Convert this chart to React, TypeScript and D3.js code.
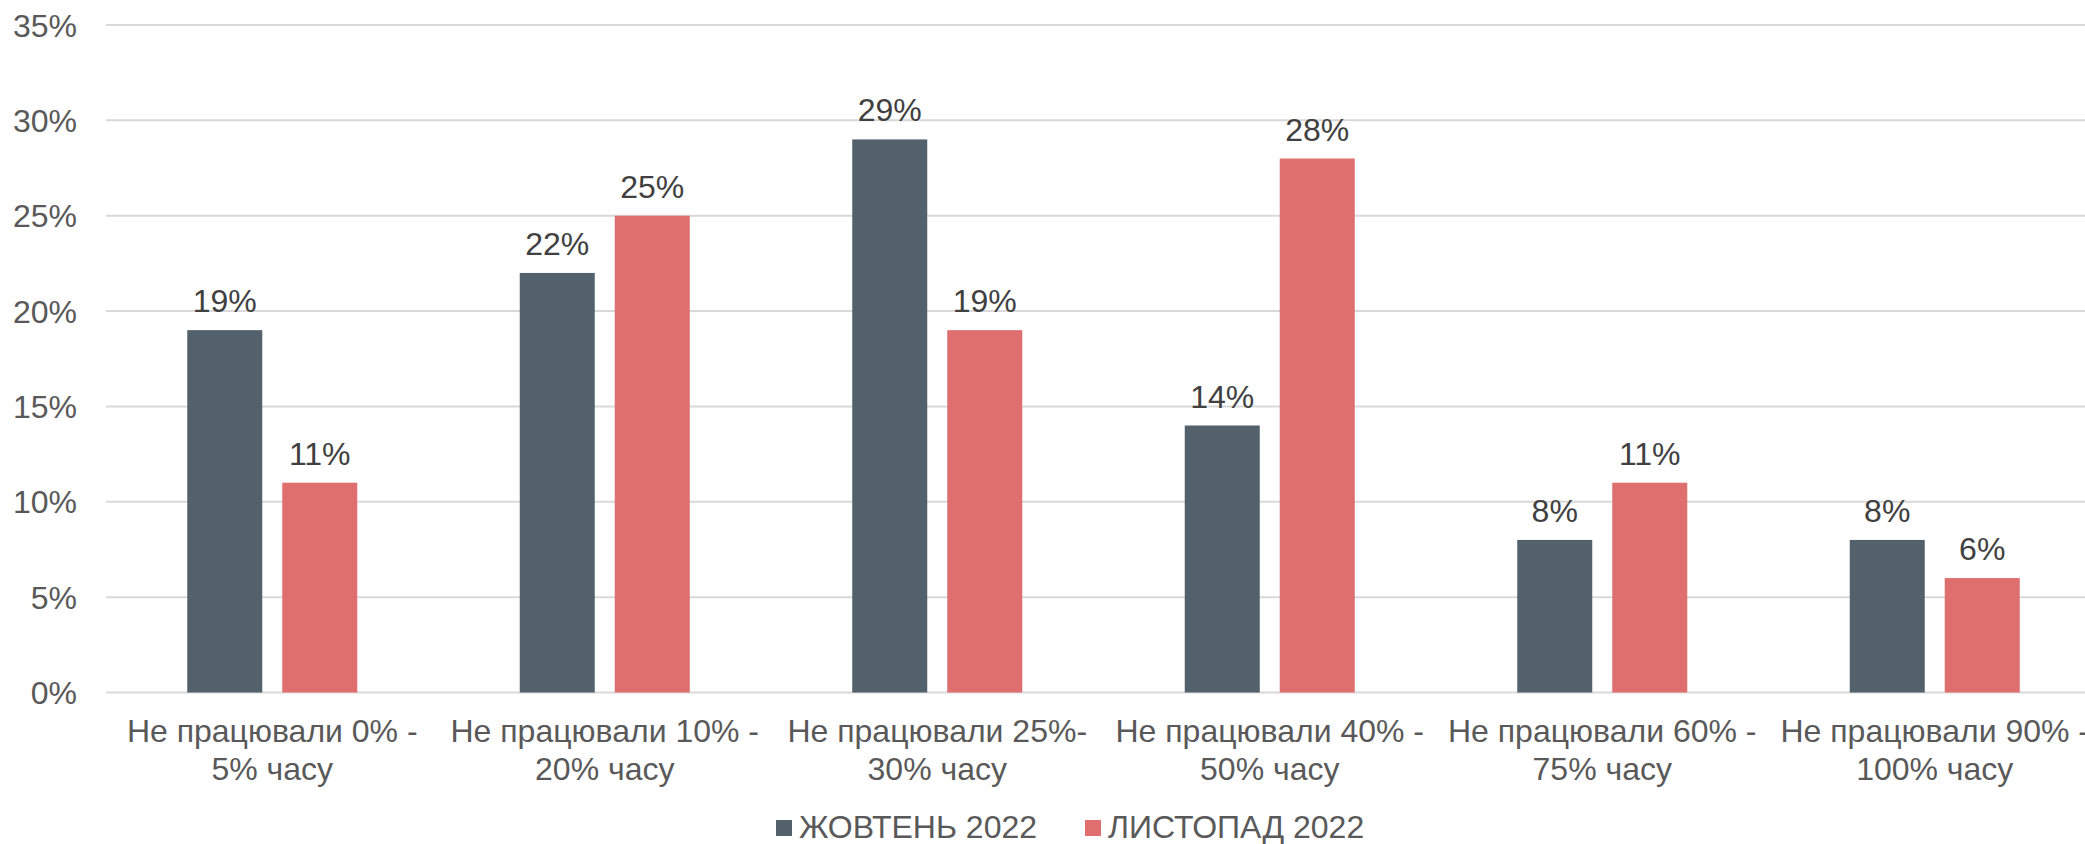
import React from "react";
import * as d3 from "d3";

const categories = ["c0", "c1", "c2", "c3", "c4", "c5"];
const categoryLines: string[][] = [
  ["Не працювали 0% -", "5% часу"],
  ["Не працювали 10% -", "20% часу"],
  ["Не працювали 25%-", "30% часу"],
  ["Не працювали 40% -", "50% часу"],
  ["Не працювали 60% -", "75% часу"],
  ["Не працювали 90% -", "100% часу"],
];
const seriesNames = ["ЖОВТЕНЬ 2022", "ЛИСТОПАД 2022"];
const october = [19, 22, 29, 14, 8, 8];
const november = [11, 25, 19, 28, 11, 6];
const yTicks = [0, 5, 10, 15, 20, 25, 30, 35];
const colors = ["#52616B", "#DF6F6E"];

const W = 2085;
const H = 844;
const FONT = "'Liberation Sans', Arial, sans-serif";

export default function App() {
  const series = [october, november];
  const x0 = d3
    .scaleBand<string>()
    .domain(categories)
    .range([106, 2101])
    .paddingInner(0.4887)
    .paddingOuter(0.4887 / 2);
  const x1 = d3
    .scaleBand<string>()
    .domain(seriesNames)
    .range([0, x0.bandwidth()])
    .paddingInner(0.2105);
  const y = d3.scaleLinear().domain([0, 35]).range([692.5, 25]);

  return (
    <svg
      width={W}
      height={H}
      style={{ position: "fixed", left: 0, top: 0, background: "#fff" }}
      fontFamily={FONT}
    >
      <rect x={0} y={0} width={W} height={H} fill="#fff" />
      {yTicks.map((t) => (
        <g key={t}>
          <line
            x1={106}
            x2={W}
            y1={y(t)}
            y2={y(t)}
            stroke="#D9D9D9"
            strokeWidth={2}
          />
          <text
            x={77}
            y={y(t) + 11.5}
            textAnchor="end"
            fontSize={32}
            fill="#595959"
          >
            {t}%
          </text>
        </g>
      ))}
      {categories.map((c, i) => (
        <g key={c} transform={`translate(${x0(c)},0)`}>
          {seriesNames.map((s, j) => {
            const v = series[j][i];
            const bx = x1(s)!;
            return (
              <g key={s}>
                <rect
                  x={bx}
                  y={y(v)}
                  width={x1.bandwidth()}
                  height={y(0) - y(v)}
                  fill={colors[j]}
                />
                <text
                  x={bx + x1.bandwidth() / 2}
                  y={y(v) - 18}
                  textAnchor="middle"
                  fontSize={32}
                  fill="#404040"
                >
                  {v}%
                </text>
              </g>
            );
          })}
          {categoryLines[i].map((ln, k) => (
            <text
              key={k}
              x={x0.bandwidth() / 2}
              y={742 + k * 38}
              textAnchor="middle"
              fontSize={32}
              fill="#595959"
            >
              {ln}
            </text>
          ))}
        </g>
      ))}
      {seriesNames.map((s, j) => {
        const lx = [776, 1085][j];
        return (
          <g key={s}>
            <rect x={lx} y={820} width={16} height={16} fill={colors[j]} />
            <text x={lx + 23} y={838} fontSize={32} fill="#595959">
              {s}
            </text>
          </g>
        );
      })}
    </svg>
  );
}
